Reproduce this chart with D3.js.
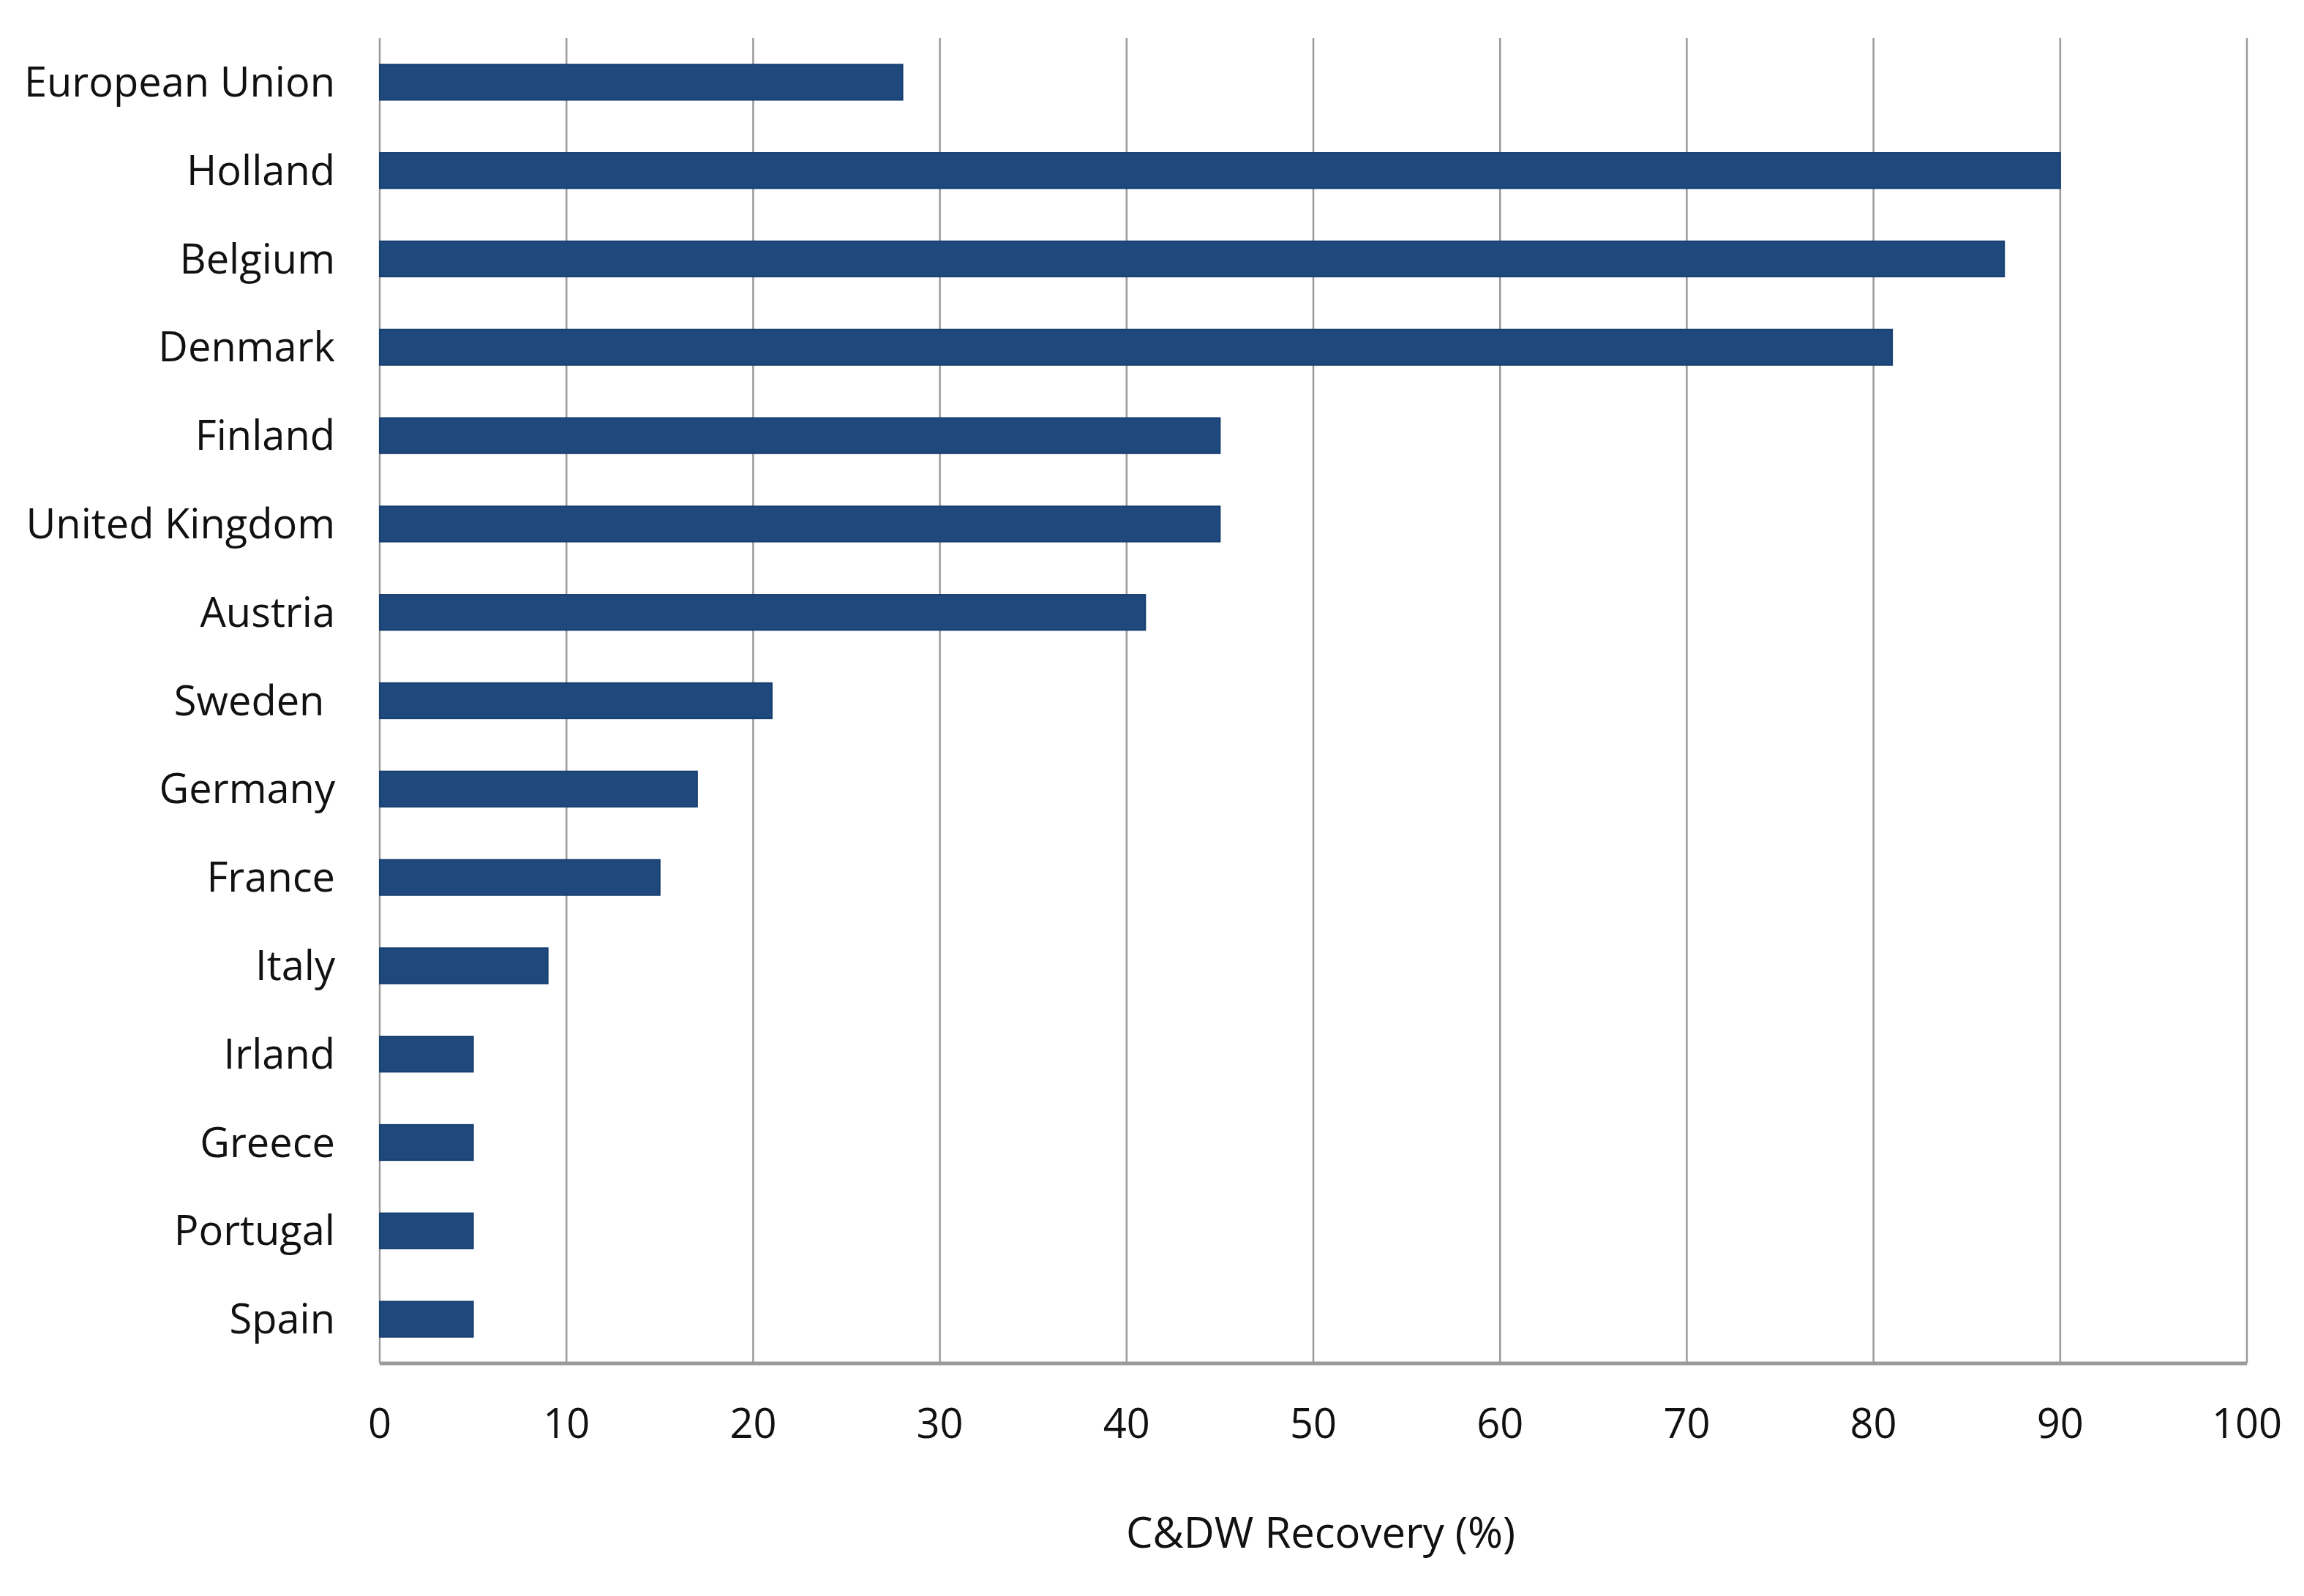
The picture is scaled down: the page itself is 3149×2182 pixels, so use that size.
<!DOCTYPE html>
<html>
<head>
<meta charset="utf-8">
<script src="https://cdn.jsdelivr.net/npm/d3@7.9.0/dist/d3.min.js"></script>
<style>
  body { margin: 0; background: #fff; }
  text { font-family: "Open Sans", sans-serif; fill: #111; }
</style>
</head>
<body>
<svg id="chart" width="3149" height="2182"></svg>
<script>
// countries, top to bottom
const countries = ['European Union', 'Holland', 'Belgium', 'Denmark', 'Finland', 'United Kingdom',
  'Austria', 'Sweden ', 'Germany', 'France', 'Italy', 'Irland', 'Greece', 'Portugal', 'Spain'];
const recovery = [28, 90, 87, 81, 45, 45, 41, 21, 17, 15, 9, 5, 5, 5, 5];
const xTicks = [0, 10, 20, 30, 40, 50, 60, 70, 80, 90, 100];

const data = countries.map((c, i) => ({ country: c, value: recovery[i] }));

const svg = d3.select('#chart');
const plotLeft = 519, plotRight = 3071, plotTop = 52, plotBottom = 1864;

let x = d3.scaleLinear().domain([0, 100]).range([plotLeft, plotRight]);
let y = d3.scaleBand().domain(countries).range([plotTop, plotBottom]).paddingInner(0.6).paddingOuter(0.3);

// gridlines
svg.append('g')
  .selectAll('line')
  .data(xTicks)
  .join('line')
  .attr('x1', d => x(d)).attr('x2', d => x(d))
  .attr('y1', plotTop).attr('y2', plotBottom)
  .attr('stroke', '#9a9a9a')
  .attr('stroke-width', 2.5);

// bars
svg.append('g')
  .selectAll('rect')
  .data(data)
  .join('rect')
  .attr('x', x(0))
  .attr('y', d => y(d.country))
  .attr('width', d => x(d.value) - x(0))
  .attr('height', y.bandwidth())
  .attr('fill', '#1f497d')
  .attr('stroke', '#173f70')
  .attr('stroke-width', 2);

// bottom axis line
svg.append('line')
  .attr('x1', plotLeft).attr('x2', plotRight)
  .attr('y1', plotBottom).attr('y2', plotBottom)
  .attr('stroke', '#9a9a9a')
  .attr('stroke-width', 5);

// category labels
svg.append('g')
  .selectAll('text')
  .data(countries)
  .join('text')
  .attr('x', plotLeft - 61)
  .attr('y', d => y(d) + y.bandwidth() / 2)
  .attr('dy', '0.35em')
  .attr('text-anchor', 'end')
  .style('white-space', 'pre')
  .attr('font-size', 56)
  .text(d => d);

// tick labels
svg.append('g')
  .selectAll('text')
  .data(xTicks)
  .join('text')
  .attr('x', d => x(d))
  .attr('y', 1946)
  .attr('dy', '0.35em')
  .attr('text-anchor', 'middle')
  .attr('font-size', 56)
  .text(d => d);

// axis title
svg.append('text')
  .attr('x', (plotLeft + plotRight) / 2 + 10)
  .attr('y', 2096)
  .attr('dy', '0.35em')
  .attr('text-anchor', 'middle')
  .attr('font-size', 58)
  .text('C&DW Recovery (%)');
</script>
</body>
</html>
